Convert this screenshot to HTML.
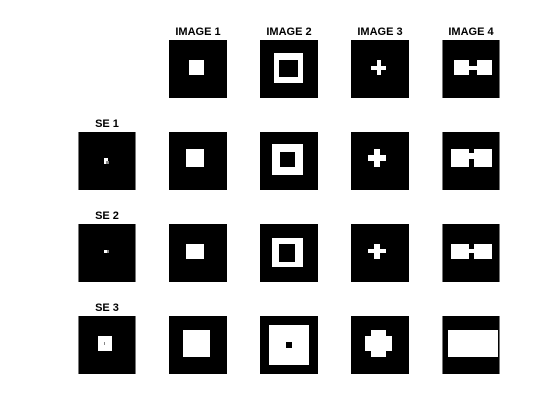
<!DOCTYPE html>
<html><head><meta charset="utf-8"><style>
html,body{margin:0;padding:0;background:#fff;}
svg{display:block;}
text{font-family:"Liberation Sans",Arial,sans-serif;font-weight:bold;font-size:11px;fill:#000;text-anchor:middle;}
</style></head><body>
<svg width="560" height="420" viewBox="0 0 560 420">
<g>
<text x="198" y="35">IMAGE 1</text>
<text x="289" y="35">IMAGE 2</text>
<text x="380" y="35">IMAGE 3</text>
<text x="471" y="35">IMAGE 4</text>
<text x="107" y="127">SE 1</text>
<text x="107" y="219">SE 2</text>
<text x="107" y="311">SE 3</text>
</g>
<!-- Row 1 -->
<g><rect x="169" y="40" width="58" height="58" fill="#000"/><rect x="189" y="60" width="15" height="15" fill="#fff"/></g>
<g><rect x="260" y="40" width="58" height="58" fill="#000"/><rect x="274" y="53" width="29" height="30" fill="#fff"/><rect x="279" y="60" width="19" height="17" fill="#000"/></g>
<g><rect x="351" y="40" width="58" height="58" fill="#000"/><rect x="377" y="60" width="4" height="15" fill="#fff"/><rect x="371" y="66" width="15" height="4" fill="#fff"/></g>
<g><rect x="442" y="40" width="58" height="58" fill="#000"/><rect x="442" y="40" width="1" height="58" fill="#777"/><rect x="499" y="40" width="1" height="58" fill="#777"/><rect x="454" y="60" width="15" height="15" fill="#fff"/><rect x="469" y="66" width="8" height="4" fill="#fff"/><rect x="477" y="60" width="15" height="15" fill="#fff"/></g>
<!-- Row 2 -->
<g><rect x="78" y="132" width="58" height="58" fill="#000"/><rect x="78" y="132" width="1" height="58" fill="#777"/><rect x="135" y="132" width="1" height="58" fill="#777"/><rect x="104" y="158" width="4" height="6" fill="#fff"/><rect x="106" y="161" width="3" height="3" fill="#888"/></g>
<g><rect x="169" y="132" width="58" height="58" fill="#000"/><rect x="186" y="149" width="18" height="18" fill="#fff"/></g>
<g><rect x="260" y="132" width="58" height="58" fill="#000"/><rect x="272" y="144" width="31" height="31" fill="#fff"/><rect x="280" y="152" width="15" height="15" fill="#000"/></g>
<g><rect x="351" y="132" width="58" height="58" fill="#000"/><rect x="374" y="149" width="6" height="18" fill="#fff"/><rect x="368" y="155" width="18" height="6" fill="#fff"/></g>
<g><rect x="442" y="132" width="58" height="58" fill="#000"/><rect x="442" y="132" width="1" height="58" fill="#777"/><rect x="499" y="132" width="1" height="58" fill="#777"/><rect x="451" y="149" width="18" height="18" fill="#fff"/><rect x="469" y="153" width="5" height="6" fill="#fff"/><rect x="474" y="149" width="18" height="18" fill="#fff"/></g>
<!-- Row 3 -->
<g><rect x="78" y="224" width="58" height="58" fill="#000"/><rect x="78" y="224" width="1" height="58" fill="#777"/><rect x="135" y="224" width="1" height="58" fill="#777"/><rect x="104" y="250" width="3" height="3" fill="#fff"/><rect x="107" y="250" width="2" height="3" fill="#888"/></g>
<g><rect x="169" y="224" width="58" height="58" fill="#000"/><rect x="186" y="244" width="18" height="15" fill="#fff"/></g>
<g><rect x="260" y="224" width="58" height="58" fill="#000"/><rect x="272" y="238" width="31" height="29" fill="#fff"/><rect x="279" y="244" width="16" height="18" fill="#000"/></g>
<g><rect x="351" y="224" width="58" height="58" fill="#000"/><rect x="374" y="244" width="6" height="15" fill="#fff"/><rect x="368" y="249" width="18" height="4" fill="#fff"/></g>
<g><rect x="442" y="224" width="58" height="58" fill="#000"/><rect x="442" y="224" width="1" height="58" fill="#777"/><rect x="499" y="224" width="1" height="58" fill="#777"/><rect x="451" y="244" width="18" height="15" fill="#fff"/><rect x="469" y="249" width="5" height="4" fill="#fff"/><rect x="474" y="244" width="18" height="15" fill="#fff"/></g>
<!-- Row 4 -->
<g><rect x="78" y="316" width="58" height="58" fill="#000"/><rect x="78" y="316" width="1" height="58" fill="#777"/><rect x="135" y="316" width="1" height="58" fill="#777"/><rect x="98" y="336" width="14" height="15" fill="#fff"/><rect x="104" y="342" width="1" height="3" fill="#888"/></g>
<g><rect x="169" y="316" width="58" height="58" fill="#000"/><rect x="183" y="330" width="27" height="27" fill="#fff"/></g>
<g><rect x="260" y="316" width="58" height="58" fill="#000"/><rect x="269" y="325" width="40" height="40" fill="#fff"/><rect x="286" y="342" width="6" height="6" fill="#000"/></g>
<g><rect x="351" y="316" width="58" height="58" fill="#000"/><rect x="371" y="330" width="15" height="27" fill="#fff"/><rect x="365" y="336" width="27" height="15" fill="#fff"/></g>
<g><rect x="442" y="316" width="58" height="58" fill="#000"/><rect x="442" y="316" width="1" height="58" fill="#777"/><rect x="499" y="316" width="1" height="58" fill="#777"/><rect x="448" y="330" width="50" height="27" fill="#fff"/></g>
</svg>
</body></html>
